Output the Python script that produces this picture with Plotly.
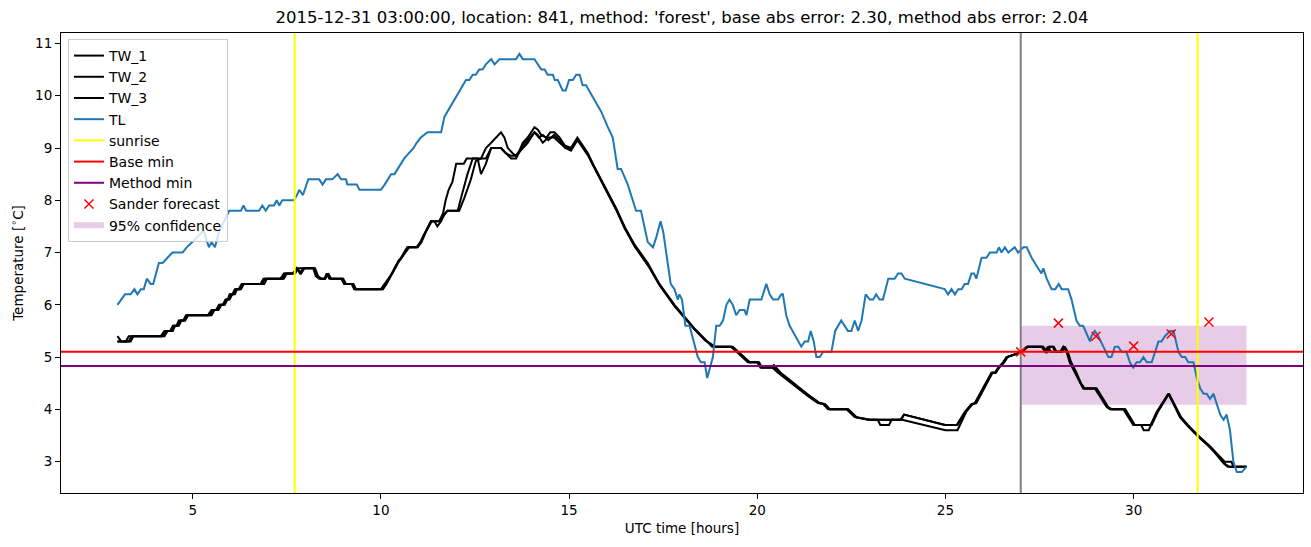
import plotly.graph_objects as go

TITLE = "2015-12-31 03:00:00, location: 841, method: 'forest', base abs error: 2.30, method abs error: 2.04"

TL_t = [3.0, 3.2, 3.35, 3.45, 3.53, 3.62, 3.7, 3.78, 3.88, 3.95, 4.1, 4.2, 4.33, 4.46, 4.73, 4.84, 4.99, 5.12, 5.26, 5.3,
        5.43, 5.5, 5.59, 5.7, 5.97, 6.28, 6.35, 6.42, 6.76, 6.85, 6.94, 7.03, 7.16, 7.23, 7.3, 7.38, 7.69, 7.77, 7.83, 7.93,
        8.07, 8.36, 8.45, 8.54, 8.71, 8.85, 8.94, 9.07, 9.11, 9.36, 9.43, 10.0, 10.1, 10.27, 10.36, 10.62, 10.75, 10.87, 10.95, 11.06,
        11.24, 11.6, 11.69, 12.17, 12.26, 12.35, 12.44, 12.52, 12.61, 12.7, 12.79, 12.93, 13.02, 13.15, 13.59, 13.68, 13.77, 14.08, 14.26, 14.35,
        14.43, 14.57, 14.62, 14.7, 14.83, 14.91, 15.0, 15.1, 15.19, 15.28, 15.36, 15.45, 15.85, 16.03, 16.16, 16.29, 16.38, 16.56, 16.65, 16.78,
        16.91, 17.09, 17.23, 17.32, 17.43, 17.5, 17.62, 17.7, 17.8, 17.89, 17.93, 18.0, 18.09, 18.2, 18.42, 18.5, 18.6, 18.67, 18.82, 18.91,
        19.0, 19.09, 19.18, 19.26, 19.35, 19.44, 19.53, 19.66, 19.71, 19.8, 20.11, 20.24, 20.33, 20.42, 20.55, 20.64, 20.68, 20.77, 20.86, 21.17,
        21.26, 21.35, 21.42, 21.5, 21.57, 21.66, 21.75, 21.97, 22.07, 22.23, 22.41, 22.5, 22.59, 22.68, 22.77, 22.88, 22.99, 23.08, 23.16, 23.25,
        23.34, 23.48, 23.65, 23.74, 23.83, 23.92, 24.98, 25.07, 25.16, 25.25, 25.34, 25.43, 25.51, 25.6, 25.69, 25.76, 25.82, 25.91, 25.96, 26.09,
        26.18, 26.36, 26.42, 26.49, 26.58, 26.67, 26.84, 26.93, 27.07, 27.16, 27.29, 27.46, 27.55, 27.6, 27.69, 27.82, 27.92, 28.01, 28.09, 28.26,
        28.35, 28.48, 28.57, 28.66, 28.84, 28.88, 28.97, 29.06, 29.19, 29.33, 29.41, 29.5, 29.59, 29.68, 29.81, 29.9, 29.99, 30.08, 30.17, 30.26,
        30.35, 30.48, 30.57, 30.66, 30.74, 30.83, 30.97, 31.06, 31.19, 31.28, 31.37, 31.45, 31.59, 31.68, 31.77, 31.86, 31.94, 32.03, 32.12, 32.21,
        32.3, 32.39, 32.47, 32.56, 32.65, 32.74, 32.87, 33.0]
TL_v = [6.0, 6.2, 6.2, 6.3, 6.2, 6.3, 6.3, 6.5, 6.4, 6.4, 6.8, 6.8, 6.9, 7.0, 7.0, 7.1, 7.2, 7.3, 7.4, 7.4,
        7.1, 7.2, 7.1, 7.4, 7.8, 7.8, 7.9, 7.8, 7.8, 7.9, 7.8, 7.9, 7.9, 8.0, 7.9, 8.0, 8.0, 8.1, 8.2, 8.1,
        8.4, 8.4, 8.3, 8.4, 8.4, 8.5, 8.4, 8.4, 8.3, 8.3, 8.2, 8.2, 8.3, 8.5, 8.5, 8.8, 8.9, 9.0, 9.1, 9.2,
        9.3, 9.3, 9.6, 10.2, 10.3, 10.3, 10.4, 10.4, 10.5, 10.5, 10.6, 10.7, 10.6, 10.7, 10.7, 10.8, 10.7, 10.7, 10.5, 10.5,
        10.4, 10.4, 10.3, 10.3, 10.1, 10.1, 10.3, 10.3, 10.4, 10.4, 10.2, 10.2, 9.7, 9.4, 9.2, 8.6, 8.6, 8.3, 8.1, 7.8,
        7.8, 7.2, 7.1, 7.3, 7.6, 7.4, 6.8, 6.4, 6.3, 6.1, 6.2, 6.1, 5.6, 5.6, 5.0, 4.9, 4.9, 4.6, 5.0, 5.6,
        5.6, 5.7, 6.0, 6.1, 6.0, 5.8, 5.9, 5.9, 5.8, 6.1, 6.1, 6.4, 6.2, 6.1, 6.1, 6.2, 6.2, 5.8, 5.6, 5.2,
        5.3, 5.3, 5.5, 5.3, 5.0, 5.0, 5.1, 5.1, 5.5, 5.7, 5.5, 5.5, 5.7, 5.5, 5.7, 6.2, 6.1, 6.1, 6.2, 6.1,
        6.1, 6.5, 6.5, 6.6, 6.6, 6.5, 6.3, 6.2, 6.3, 6.2, 6.3, 6.3, 6.4, 6.4, 6.6, 6.6, 6.5, 6.8, 6.9, 6.9,
        7.0, 7.0, 7.1, 7.0, 7.1, 7.0, 7.1, 7.0, 7.1, 7.1, 6.9, 6.7, 6.6, 6.7, 6.5, 6.3, 6.3, 6.4, 6.3, 6.3,
        6.1, 5.7, 5.6, 5.6, 5.3, 5.4, 5.5, 5.4, 5.2, 5.0, 5.0, 5.2, 5.2, 5.1, 5.1, 4.9, 4.8, 4.9, 4.9, 5.0,
        4.9, 4.9, 5.1, 5.3, 5.3, 5.4, 5.5, 5.5, 5.1, 5.0, 5.0, 4.9, 4.9, 4.6, 4.4, 4.3, 4.3, 4.2, 4.3, 4.1,
        3.9, 3.8, 3.9, 3.6, 3.0, 2.8, 2.8, 2.9]

TW1_t = [3.0, 3.1, 3.35, 3.42, 4.15, 4.25, 4.4, 4.47, 4.57, 4.63, 4.75, 4.82, 5.4, 5.5, 5.62, 5.7, 5.8, 5.87, 5.93, 5.98,
         6.05, 6.12, 6.22, 6.3, 6.8, 6.88, 7.33, 7.42, 7.68, 7.76, 7.85, 7.93, 8.2, 8.27, 8.36, 8.5, 8.56, 8.63, 8.95, 9.02,
         9.22, 9.29, 10.0, 10.1, 10.3, 10.45, 10.53, 10.6, 10.7, 10.95, 11.05, 11.15, 11.33, 11.55, 11.65, 11.72, 11.8, 11.9, 12.0, 12.2,
         12.28, 12.66, 12.79, 12.93, 13.06, 13.19, 13.28, 13.37, 13.5, 13.59, 13.68, 13.77, 13.9, 14.08, 14.17, 14.26, 14.4, 14.5, 14.61, 14.75,
         14.88, 15.05, 15.22, 15.32, 15.5, 15.63, 15.85, 16.03, 16.25, 16.47, 16.74, 17.09, 17.4, 17.8, 18.16, 18.33, 18.6, 18.8, 19.3, 19.45,
         19.62, 19.75, 20.02, 20.1, 20.4, 20.55, 20.73, 20.99, 21.35, 21.61, 21.75, 21.88, 22.37, 22.59, 22.94, 23.8, 23.9, 24.98, 25.3, 25.51,
         25.69, 25.78, 26.22, 26.31, 26.4, 26.53, 26.62, 26.84, 27.0, 27.16, 27.55, 27.65, 27.72, 27.8, 28.05, 28.13, 28.22, 28.3, 28.44, 28.57,
         28.66, 28.97, 29.28, 29.37, 29.73, 29.99, 30.45, 30.61, 30.92, 31.06, 31.23, 31.45, 31.71, 31.99, 32.16, 32.39, 32.5, 33.0]
TW1_v = [5.4, 5.3, 5.3, 5.4, 5.4, 5.5, 5.5, 5.6, 5.6, 5.7, 5.7, 5.8, 5.8, 5.9, 5.9, 6.0, 6.0, 6.1, 6.1, 6.2,
         6.2, 6.3, 6.3, 6.4, 6.4, 6.5, 6.5, 6.6, 6.6, 6.7, 6.6, 6.7, 6.7, 6.55, 6.5, 6.5, 6.6, 6.5, 6.5, 6.4,
         6.4, 6.3, 6.3, 6.4, 6.6, 6.8, 6.9, 7.0, 7.1, 7.1, 7.2, 7.35, 7.6, 7.6, 7.75, 8.0, 8.2, 8.35, 8.7, 8.7,
         8.8, 8.8, 9.0, 9.1, 9.2, 9.3, 9.2, 9.0, 8.9, 8.85, 8.95, 9.1, 9.2, 9.4, 9.35, 9.25, 9.2, 9.3, 9.3, 9.2,
         9.05, 9.0, 9.2, 9.1, 8.9, 8.7, 8.4, 8.15, 7.85, 7.5, 7.15, 6.8, 6.4, 6.0, 5.7, 5.55, 5.35, 5.2, 5.2, 5.1,
         5.0, 4.9, 4.9, 4.8, 4.8, 4.7, 4.6, 4.45, 4.25, 4.12, 4.1, 4.0, 4.0, 3.85, 3.8, 3.8, 3.9, 3.7, 3.7, 3.95,
         4.1, 4.12, 4.7, 4.7, 4.8, 4.9, 5.0, 5.05, 5.1, 5.2, 5.2, 5.1, 5.2, 5.1, 5.1, 5.2, 5.1, 4.9, 4.7, 4.5,
         4.4, 4.4, 4.05, 4.0, 4.0, 3.7, 3.7, 3.95, 4.3, 4.1, 3.85, 3.67, 3.48, 3.3, 3.17, 2.97, 2.9, 2.9]

TW2_t = [3.0, 3.22, 3.3, 4.2, 4.3, 4.43, 4.5, 4.6, 4.67, 4.78, 4.85, 5.45, 5.55, 5.65, 5.73, 5.83, 5.9, 5.95, 6.02, 6.08,
         6.15, 6.25, 6.33, 6.85, 6.92, 7.38, 7.45, 7.72, 7.8, 8.22, 8.3, 8.4, 8.52, 8.58, 8.66, 8.98, 9.05, 9.25, 9.32, 10.05,
         10.15, 10.3, 10.45, 10.55, 10.62, 10.72, 10.95, 11.05, 11.15, 11.33, 11.42, 11.5, 11.6, 11.7, 11.77, 12.04, 12.15, 12.3, 12.44, 12.57,
         12.66, 12.79, 12.93, 13.19, 13.32, 13.46, 13.59, 13.77, 13.9, 14.08, 14.2, 14.3, 14.45, 14.6, 14.75, 14.9, 15.05, 15.2, 15.3, 15.5,
         15.63, 15.85, 16.03, 16.25, 16.47, 16.74, 17.09, 17.4, 17.8, 18.16, 18.33, 18.6, 18.85, 19.35, 19.5, 19.66, 19.8, 20.0, 20.08, 20.45,
         20.6, 20.77, 21.03, 21.39, 21.65, 21.8, 21.92, 22.4, 22.62, 22.97, 23.2, 23.27, 23.5, 23.57, 23.83, 23.9, 25.0, 25.32, 25.53, 25.7,
         25.8, 26.24, 26.33, 26.42, 26.55, 26.64, 26.86, 27.02, 27.18, 27.58, 27.68, 27.75, 27.85, 27.92, 28.08, 28.15, 28.24, 28.32, 28.46, 28.59,
         28.68, 29.0, 29.3, 29.4, 29.76, 30.02, 30.2, 30.27, 30.4, 30.47, 30.63, 30.93, 31.08, 31.25, 31.48, 31.74, 32.02, 32.19, 32.42, 32.6,
         32.65, 33.0]
TW2_v = [5.3, 5.3, 5.4, 5.4, 5.5, 5.5, 5.6, 5.6, 5.7, 5.7, 5.8, 5.8, 5.9, 5.9, 6.0, 6.0, 6.1, 6.1, 6.2, 6.2,
         6.3, 6.3, 6.4, 6.4, 6.5, 6.5, 6.6, 6.6, 6.7, 6.7, 6.55, 6.5, 6.5, 6.6, 6.5, 6.5, 6.4, 6.4, 6.3, 6.3,
         6.4, 6.6, 6.8, 6.9, 7.0, 7.1, 7.1, 7.2, 7.35, 7.6, 7.6, 7.5, 7.6, 7.75, 7.8, 7.8, 8.1, 8.5, 8.8, 8.8,
         8.5, 8.7, 9.0, 9.0, 8.9, 8.8, 8.8, 9.05, 9.15, 9.3, 9.2, 9.25, 9.15, 9.25, 9.15, 9.0, 9.0, 9.15, 9.1, 8.88,
         8.68, 8.38, 8.12, 7.82, 7.47, 7.12, 6.77, 6.38, 5.98, 5.68, 5.53, 5.33, 5.2, 5.2, 5.1, 5.0, 4.9, 4.9, 4.8, 4.8,
         4.7, 4.6, 4.45, 4.25, 4.12, 4.1, 4.0, 4.0, 3.85, 3.8, 3.8, 3.7, 3.7, 3.8, 3.8, 3.9, 3.7, 3.7, 3.95, 4.1,
         4.12, 4.7, 4.7, 4.8, 4.9, 5.0, 5.05, 5.1, 5.2, 5.2, 5.1, 5.2, 5.2, 5.1, 5.1, 5.2, 5.1, 4.9, 4.7, 4.5,
         4.4, 4.4, 4.05, 4.0, 4.0, 3.7, 3.7, 3.6, 3.6, 3.7, 3.95, 4.3, 4.1, 3.85, 3.67, 3.48, 3.3, 3.17, 3.0, 3.0,
         2.9, 2.9]

TW3_t = [3.0, 3.3, 3.37, 4.25, 4.33, 4.47, 4.53, 4.63, 4.7, 4.8, 4.88, 5.5, 5.58, 5.68, 5.77, 5.85, 5.92, 5.98, 6.05, 6.12,
         6.18, 6.28, 6.36, 6.9, 6.97, 7.42, 7.5, 7.65, 7.78, 7.88, 7.97, 8.25, 8.33, 8.42, 8.52, 8.6, 8.68, 9.0, 9.07, 9.27,
         9.34, 10.05, 10.18, 10.33, 10.47, 10.55, 10.65, 10.75, 10.98, 11.08, 11.2, 11.35, 11.55, 11.65, 11.77, 12.08, 12.22, 12.39, 12.52, 12.66,
         12.79, 12.93, 13.19, 13.32, 13.46, 13.59, 13.77, 13.9, 14.08, 14.17, 14.3, 14.45, 14.6, 14.75, 14.9, 15.05, 15.22, 15.32, 15.5, 15.65,
         15.87, 16.05, 16.27, 16.5, 16.76, 17.1, 17.42, 17.82, 18.18, 18.35, 18.62, 18.88, 19.3, 19.48, 19.64, 19.78, 20.05, 20.12, 20.38, 20.44,
         20.5, 20.62, 20.8, 21.05, 21.4, 21.66, 21.8, 21.93, 22.42, 22.64, 23.0, 23.85, 25.0, 25.32, 25.55, 25.72, 25.82, 26.25, 26.34, 26.43,
         26.56, 26.65, 26.87, 27.03, 27.19, 27.6, 27.7, 27.78, 27.88, 27.95, 28.1, 28.17, 28.25, 28.34, 28.48, 28.6, 28.7, 29.02, 29.32, 29.42,
         29.78, 30.03, 30.48, 30.64, 30.94, 31.09, 31.26, 31.5, 31.76, 32.04, 32.2, 32.44, 32.55, 33.0]
TW3_v = [5.3, 5.3, 5.4, 5.4, 5.5, 5.5, 5.6, 5.6, 5.7, 5.7, 5.8, 5.8, 5.9, 5.9, 6.0, 6.0, 6.1, 6.1, 6.2, 6.2,
         6.3, 6.3, 6.4, 6.4, 6.5, 6.5, 6.6, 6.6, 6.7, 6.6, 6.7, 6.7, 6.55, 6.5, 6.5, 6.6, 6.5, 6.5, 6.4, 6.4,
         6.3, 6.3, 6.45, 6.65, 6.85, 6.9, 7.0, 7.1, 7.1, 7.2, 7.4, 7.6, 7.6, 7.7, 7.8, 7.8, 8.05, 8.4, 8.75, 8.8,
         8.8, 9.0, 9.0, 8.9, 8.85, 8.85, 9.0, 9.1, 9.3, 9.25, 9.1, 9.2, 9.2, 9.1, 9.0, 8.95, 9.15, 9.05, 8.86, 8.66,
         8.36, 8.1, 7.8, 7.45, 7.1, 6.75, 6.36, 5.96, 5.66, 5.52, 5.32, 5.2, 5.2, 5.1, 5.0, 4.9, 4.9, 4.8, 4.8, 4.85,
         4.8, 4.7, 4.6, 4.45, 4.25, 4.12, 4.1, 4.0, 4.0, 3.85, 3.8, 3.8, 3.6, 3.6, 3.95, 4.1, 4.12, 4.7, 4.7, 4.8,
         4.9, 5.0, 5.05, 5.1, 5.2, 5.2, 5.1, 5.2, 5.2, 5.1, 5.1, 5.2, 5.1, 4.9, 4.7, 4.5, 4.4, 4.4, 4.05, 4.0,
         4.0, 3.7, 3.7, 3.95, 4.3, 4.1, 3.85, 3.65, 3.46, 3.28, 3.15, 2.95, 2.9, 2.9]

SUNRISE = [7.71, 31.70]
FORECAST_TIME = 27.0
BASE_MIN = 5.10
METHOD_MIN = 4.83
SANDER_t = [27, 28, 29, 30, 31, 32]
SANDER_v = [5.10, 5.65, 5.40, 5.21, 5.44, 5.67]
CONF_t = [27.0, 33.0]
CONF_lo = 4.09
CONF_hi = 5.60

X_RANGE = [1.5, 34.5]
Y_RANGE = [2.4, 11.2]

LW = 2

fig = go.Figure()

# confidence band (drawn underneath)
fig.add_trace(go.Scatter(
    x=[CONF_t[0], CONF_t[1], CONF_t[1], CONF_t[0], CONF_t[0]],
    y=[CONF_lo, CONF_lo, CONF_hi, CONF_hi, CONF_lo],
    fill='toself', fillcolor='rgba(128,0,128,0.2)', mode='none',
    name='95% confidence', legendrank=9, hoverinfo='skip'))

for i, (tt, vv) in enumerate([(TW1_t, TW1_v), (TW2_t, TW2_v), (TW3_t, TW3_v)]):
    fig.add_trace(go.Scatter(x=tt, y=vv, mode='lines', name=f'TW_{i+1}',
                             line=dict(color='black', width=LW), legendrank=i + 1))

fig.add_trace(go.Scatter(x=TL_t, y=TL_v, mode='lines', name='TL',
                         line=dict(color='#1f77b4', width=LW), legendrank=4))

sx, sy = [], []
for s in SUNRISE:
    sx += [s, s, None]
    sy += [Y_RANGE[0], Y_RANGE[1], None]
fig.add_trace(go.Scatter(x=sx, y=sy, mode='lines', name='sunrise',
                         line=dict(color='#ffff00', width=LW), legendrank=5))

fig.add_trace(go.Scatter(x=[FORECAST_TIME, FORECAST_TIME], y=Y_RANGE, mode='lines',
                         line=dict(color='#808080', width=LW), showlegend=False))

fig.add_trace(go.Scatter(x=X_RANGE, y=[BASE_MIN, BASE_MIN], mode='lines', name='Base min',
                         line=dict(color='red', width=LW), legendrank=6))
fig.add_trace(go.Scatter(x=X_RANGE, y=[METHOD_MIN, METHOD_MIN], mode='lines', name='Method min',
                         line=dict(color='#800080', width=LW), legendrank=7))

fig.add_trace(go.Scatter(x=SANDER_t, y=SANDER_v, mode='markers', name='Sander forecast',
                         marker=dict(symbol='x-thin', size=9, color='red',
                                     line=dict(color='red', width=1.5)), legendrank=8))

axis_common = dict(showline=True, mirror=True, linecolor='black', linewidth=1,
                   ticks='outside', ticklen=5, tickwidth=1, tickcolor='black',
                   showgrid=False, zeroline=False,
                   tickfont=dict(family='DejaVu Sans', size=13.5, color='black'))

fig.update_layout(
    width=1311, height=547,
    margin=dict(l=61, r=8, t=33, b=54),
    paper_bgcolor='white', plot_bgcolor='white',
    font=dict(family='DejaVu Sans', size=13.5, color='black'),
    title=dict(text=TITLE, x=(61 + 1303) / 2 / 1311, xanchor='center', y=1 - 17 / 547, yanchor='middle',
               font=dict(family='DejaVu Sans', size=16.5, color='black')),
    xaxis=dict(range=X_RANGE, tick0=0, dtick=5,
               title=dict(text='UTC time [hours]', standoff=6,
                          font=dict(family='DejaVu Sans', size=13.5, color='black')),
               **axis_common),
    yaxis=dict(range=Y_RANGE, tick0=0, dtick=1,
               title=dict(text='Temperature [<sup>∘</sup>C]', standoff=8,
                          font=dict(family='DejaVu Sans', size=13.5, color='black')),
               **axis_common),
    legend=dict(x=0.0056, y=0.987, xanchor='left', yanchor='top',
                bgcolor='rgba(255,255,255,0.8)', bordercolor='#cccccc', borderwidth=1,
                font=dict(family='DejaVu Sans', size=14, color='black'),
                itemwidth=30, tracegroupgap=0),
    showlegend=True,
)

fig.write_html("out.html")
